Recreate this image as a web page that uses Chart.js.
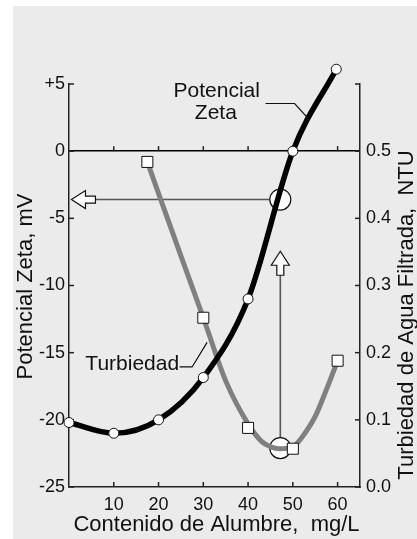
<!DOCTYPE html>
<html><head><meta charset="utf-8">
<script src="https://cdn.jsdelivr.net/npm/chart.js@4"></script>
<style>html,body{margin:0;padding:0;background:#fff;}canvas{display:block}</style>
</head><body>
<canvas id="c" width="417" height="539"></canvas>
<script>
// ---- data ----
const zetaDose   = [0, 10, 20, 30, 40, 50, 59.7];
const zetaValues = [-20.2, -21.0, -20.0, -16.85, -11.0, 0.0, 6.1];
const turbDose   = [17.5, 30, 40, 50, 60];
const turbValues = [0.484, 0.252, 0.088, 0.057, 0.188];
// grey smoothed curve as drawn in the picture
const turbCurveDose   = [17.5, 20, 25, 30, 35, 40, 43, 45, 47, 50, 53, 55, 57.5, 60];
const turbCurveValues = [0.484, 0.437, 0.344, 0.252, 0.158, 0.094, 0.068, 0.060, 0.057, 0.060, 0.083, 0.105, 0.145, 0.188];
const xTicks    = [0, 10, 20, 30, 40, 50, 60];
const zetaTicks = [-25, -20, -15, -10, -5, 0, 5];
const turbTicks = [0, 0.1, 0.2, 0.3, 0.4, 0.5, 0.6];
const optimumDose = 47.2;
const optimumZeta = -3.6;
const optimumTurb = 0.058;

const FONT = '"Liberation Sans", Arial, Helvetica, sans-serif';
const pts = (xs, ys) => xs.map((x, i) => ({x, y: ys[i]}));

const annot = {
  id: 'annot',
  beforeDraw(chart) {
    const ctx = chart.ctx;
    ctx.save();
    ctx.fillStyle = '#ffffff'; ctx.fillRect(0, 0, chart.width, chart.height);
    ctx.fillStyle = '#ebebeb'; ctx.fillRect(13, 6, chart.width - 13, chart.height - 6);
    ctx.restore();
  },
  beforeDatasetsDraw(chart) {
    const {ctx, chartArea: a} = chart;
    const X = chart.scales.x, Y = chart.scales.y, Y2 = chart.scales.y2;
    const line = (x1, y1, x2, y2) => { ctx.beginPath(); ctx.moveTo(x1, y1); ctx.lineTo(x2, y2); ctx.stroke(); };
    ctx.save();
    // inward tick marks
    ctx.strokeStyle = '#222'; ctx.lineWidth = 1.5;
    const y0 = Y.getPixelForValue(0);
    xTicks.forEach(v => {
      if (v === 0) return;
      const px = X.getPixelForValue(v);
      line(px, a.bottom, px, a.bottom - 5);
      line(px, y0, px, y0 - 5);
    });
    zetaTicks.forEach(v => { const py = Y.getPixelForValue(v); line(a.left, py, a.left + 5, py); });
    turbTicks.forEach(v => { const py = Y2.getPixelForValue(v); line(a.right, py, a.right - 5, py); });

    // arrows from the optimum dose
    const cx = X.getPixelForValue(optimumDose);
    const cyZ = Y.getPixelForValue(optimumZeta);
    const cyT = Y2.getPixelForValue(optimumTurb);
    const R = 10.5;
    // left arrow
    const tx = X.getPixelForValue(0.55);
    ctx.strokeStyle = '#555'; ctx.lineWidth = 1.6;
    line(tx + 23, cyZ, cx - R, cyZ);
    ctx.beginPath();
    ctx.moveTo(tx, cyZ);
    ctx.lineTo(tx + 14, cyZ - 9); ctx.lineTo(tx + 14, cyZ - 3.5); ctx.lineTo(tx + 24, cyZ - 3.5);
    ctx.lineTo(tx + 24, cyZ + 3.5); ctx.lineTo(tx + 14, cyZ + 3.5); ctx.lineTo(tx + 14, cyZ + 9);
    ctx.closePath();
    ctx.fillStyle = '#fff'; ctx.fill(); ctx.strokeStyle = '#111'; ctx.lineWidth = 1.2; ctx.stroke();
    // up arrow
    const ty = Y2.getPixelForValue(0.351);
    ctx.strokeStyle = '#555'; ctx.lineWidth = 1.6;
    line(cx, ty + 23, cx, cyT - R);
    ctx.beginPath();
    ctx.moveTo(cx, ty);
    ctx.lineTo(cx + 9, ty + 14); ctx.lineTo(cx + 3.5, ty + 14); ctx.lineTo(cx + 3.5, ty + 24);
    ctx.lineTo(cx - 3.5, ty + 24); ctx.lineTo(cx - 3.5, ty + 14); ctx.lineTo(cx - 9, ty + 14);
    ctx.closePath();
    ctx.fillStyle = '#fff'; ctx.fill(); ctx.strokeStyle = '#111'; ctx.lineWidth = 1.2; ctx.stroke();
    ctx.restore();
  },
  afterDatasetsDraw(chart) {
    // the library skips markers lying outside the plot area; draw those library point elements too
    const a = chart.chartArea;
    const full = {left: 0, top: 0, right: chart.width, bottom: chart.height};
    chart.getSortedVisibleDatasetMetas().forEach(meta => {
      meta.data.forEach(p => {
        if (p.y < a.top || p.y > a.bottom || p.x < a.left || p.x > a.right) p.draw(chart.ctx, full);
      });
    });
  },
  afterDraw(chart) {
    const {ctx} = chart;
    const X = chart.scales.x, Y = chart.scales.y, Y2 = chart.scales.y2;
    ctx.save();
    ctx.fillStyle = '#111'; ctx.strokeStyle = '#111'; ctx.lineWidth = 1.2;
    // series labels
    ctx.font = '21px ' + FONT;
    ctx.textAlign = 'center'; ctx.textBaseline = 'alphabetic';
    ctx.fillText('Potencial', X.getPixelForValue(33.0), Y.getPixelForValue(4.02));
    ctx.fillText('Zeta', X.getPixelForValue(32.8), Y.getPixelForValue(2.38));
    ctx.beginPath();
    ctx.moveTo(X.getPixelForValue(43.9), Y.getPixelForValue(3.55));
    ctx.lineTo(X.getPixelForValue(50.4), Y.getPixelForValue(3.55));
    ctx.lineTo(X.getPixelForValue(53.2), Y.getPixelForValue(2.51));
    ctx.stroke();
    ctx.textAlign = 'right';
    ctx.fillText('Turbiedad', X.getPixelForValue(24.6), Y2.getPixelForValue(0.1736));
    ctx.beginPath();
    ctx.moveTo(X.getPixelForValue(24.7), Y2.getPixelForValue(0.1787));
    ctx.lineTo(X.getPixelForValue(27.5), Y2.getPixelForValue(0.1787));
    ctx.lineTo(X.getPixelForValue(30.85), Y2.getPixelForValue(0.2154));
    ctx.stroke();
    // axis titles
    ctx.font = '22px ' + FONT;
    ctx.textAlign = 'center'; ctx.textBaseline = 'alphabetic';
    ctx.fillText('Contenido de Alumbre,  mg/L', 216.5, 531);
    ctx.save(); ctx.translate(32, 286.5); ctx.rotate(-Math.PI / 2);
    ctx.fillText('Potencial Zeta, mV', 0, 0); ctx.restore();
    ctx.save(); ctx.translate(413, 315); ctx.rotate(-Math.PI / 2);
    ctx.fillText('Turbiedad de Agua Filtrada,  NTU', 0, 0); ctx.restore();
    ctx.restore();
  }
};

const tickFont = {family: FONT, size: 18};
new Chart(document.getElementById('c'), {
  type: 'line',
  data: {
    datasets: [
      { label: 'Turbiedad (puntos)', data: pts(turbDose, turbValues), yAxisID: 'y2', showLine: false, clip: false,
        pointStyle: 'rect', pointRadius: 7.8, pointBackgroundColor: '#fff', pointBorderColor: '#111', pointBorderWidth: 1, order: 0 },
      { label: 'Potencial Zeta', data: pts(zetaDose, zetaValues), yAxisID: 'y', clip: false,
        borderColor: '#000', borderWidth: 5.5, cubicInterpolationMode: 'monotone',
        pointRadius: 5, pointBackgroundColor: '#fff', pointBorderColor: '#111', pointBorderWidth: 1, order: 1 },
      { label: 'Turbiedad', data: pts(turbCurveDose, turbCurveValues), yAxisID: 'y2', clip: false,
        borderColor: '#808080', borderWidth: 5, cubicInterpolationMode: 'monotone', pointRadius: 0, order: 2 },
      { label: 'Óptimo zeta', data: [{x: optimumDose, y: optimumZeta}], yAxisID: 'y', showLine: false, clip: false,
        pointRadius: 10.5, pointBackgroundColor: '#fff', pointBorderColor: '#111', pointBorderWidth: 1.2, order: 3 },
      { label: 'Óptimo turbiedad', data: [{x: optimumDose, y: optimumTurb}], yAxisID: 'y2', showLine: false, clip: false,
        pointRadius: 10.5, pointBackgroundColor: '#fff', pointBorderColor: '#111', pointBorderWidth: 1.2, order: 3 }
    ]
  },
  options: {
    responsive: false, animation: false, events: [],
    layout: {padding: {top: 84, left: 0, right: 0, bottom: 0}},
    plugins: {legend: {display: false}, tooltip: {enabled: false}},
    scales: {
      x: { type: 'linear', min: 0, max: 65, position: 'bottom',
        afterBuildTicks: s => { s.ticks = xTicks.map(v => ({value: v})); },
        afterFit: s => { s.height = 52; },
        grid: {display: false, drawTicks: false},
        border: {display: true, color: '#222', width: 1.5},
        ticks: {callback: v => v === 0 ? '' : String(v), font: tickFont, color: '#111', padding: 7, maxRotation: 0, autoSkip: false}
      },
      y: { type: 'linear', min: -25, max: 5, position: 'left',
        afterBuildTicks: s => { s.ticks = zetaTicks.map(v => ({value: v})); },
        afterFit: s => { s.width = 69; },
        grid: {drawTicks: false, lineWidth: 1.5, color: c => (c.tick && c.tick.value === 0) ? '#000' : 'rgba(0,0,0,0)'},
        border: {display: true, color: '#222', width: 1.5},
        ticks: {callback: v => v > 0 ? '+' + v : String(v), font: tickFont, color: '#111', padding: 4}
      },
      y2: { type: 'linear', min: 0, max: 0.6, position: 'right',
        afterBuildTicks: s => { s.ticks = turbTicks.map(v => ({value: v})); },
        afterFit: s => { s.width = 57; },
        grid: {display: false, drawTicks: false},
        border: {display: true, color: '#222', width: 1.5},
        ticks: {callback: v => v > 0.55 ? '' : v.toFixed(1), font: tickFont, color: '#111', padding: 6}
      }
    }
  },
  plugins: [annot]
});
</script>
</body></html>
